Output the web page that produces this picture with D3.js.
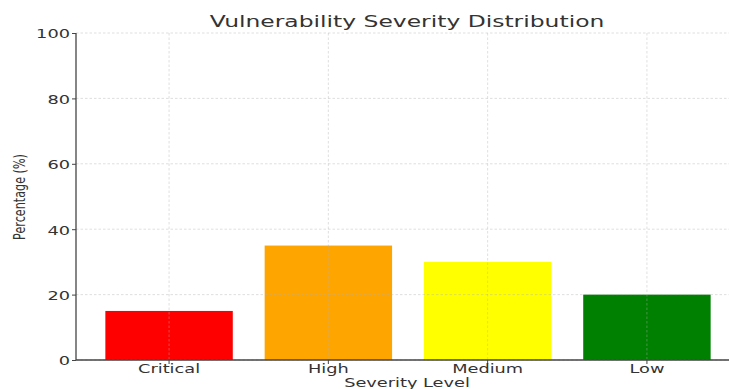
<!DOCTYPE html>
<html>
<head>
<meta charset="utf-8">
<script src="https://cdn.jsdelivr.net/npm/d3@7"></script>
<style>
  body { margin: 0; background: #ffffff; }
  svg { display: block; }
  text { font-family: "DejaVu Sans", sans-serif; fill: #333333; }
</style>
</head>
<body>
<svg id="chart" width="729" height="389"></svg>
<script>
// Severity levels and their share of all findings (%)
const categories = ["Critical", "High", "Medium", "Low"];
const percentages = [15, 35, 30, 20];
const barColors = ["#ff0000", "#ffa500", "#ffff00", "#008000"];
const yTicks = [0, 20, 40, 60, 80, 100];

const titleText = "Vulnerability Severity Distribution";
const xLabelText = "Severity Level";
const yLabelText = "Percentage (%)";

// Layout
const W = 729, H = 389;
const plotTop = 33, plotBottom = 360;
const axisX = 76;          // left spine
const plotRight = W;       // grid runs to the edge
const textStretch = 1.42;  // wide glyph rendering

const svg = d3.select("#chart");

// Bars follow a matplotlib-like layout: width 0.8 of each slot, 0.6 slot margin
const x = d3.scaleBand()
  .domain(categories)
  .range([73.5, 742.5])
  .paddingInner(0.2)
  .paddingOuter(0.2);

const y = d3.scaleLinear()
  .domain([0, 100])
  .range([plotBottom, plotTop]);

const center = c => x(c) + x.bandwidth() / 2;

// Bars
svg.append("g")
  .selectAll("rect")
  .data(categories)
  .join("rect")
  .attr("x", c => x(c))
  .attr("y", (c, i) => y(percentages[i]))
  .attr("width", x.bandwidth())
  .attr("height", (c, i) => y(0) - y(percentages[i]))
  .attr("fill", (c, i) => barColors[i]);

// Grid (dashed, translucent, drawn over the bars)
const grid = svg.append("g")
  .attr("stroke", "#b0b0b0")
  .attr("stroke-opacity", 0.45)
  .attr("stroke-width", 0.9)
  .attr("stroke-dasharray", "2.5,2");

grid.selectAll("line.h")
  .data(yTicks)
  .join("line")
  .attr("class", "h")
  .attr("x1", axisX).attr("x2", plotRight)
  .attr("y1", d => y(d)).attr("y2", d => y(d));

grid.selectAll("line.v")
  .data(categories)
  .join("line")
  .attr("class", "v")
  .attr("x1", c => center(c)).attr("x2", c => center(c))
  .attr("y1", plotTop).attr("y2", plotBottom);

// Y axis
const yAxis = svg.append("g")
  .attr("transform", `translate(${axisX},0)`)
  .call(d3.axisLeft(y).tickValues(yTicks).tickSizeOuter(0).tickSize(4));
yAxis.select(".domain").attr("stroke", "#444").attr("stroke-width", 1.3)
  .attr("d", `M0,${plotBottom}V${plotTop}`);
yAxis.selectAll(".tick line").attr("stroke", "#444").attr("stroke-width", 1);
yAxis.selectAll(".tick text")
  .attr("x", null).attr("dy", null)
  .attr("text-anchor", "end")
  .attr("dominant-baseline", "central")
  .attr("font-size", 12.5)
  .attr("fill", "#333")
  .attr("transform", `translate(-6,0.8) scale(${textStretch},1)`);

// X axis
const xAxis = svg.append("g")
  .attr("transform", `translate(0,${plotBottom})`)
  .call(d3.axisBottom(x).tickSizeOuter(0).tickSize(4));
xAxis.select(".domain").attr("stroke", "#444").attr("stroke-width", 1.3)
  .attr("d", `M${axisX},0H${W}`);
xAxis.selectAll(".tick line").attr("stroke", "#444").attr("stroke-width", 1);
xAxis.selectAll(".tick text")
  .attr("y", null).attr("dy", null)
  .attr("font-size", 12.5)
  .attr("fill", "#333")
  .attr("transform", `translate(0,13) scale(${textStretch},1)`);

// Title
svg.append("text")
  .attr("transform", `translate(407,27) scale(${textStretch},1)`)
  .attr("text-anchor", "middle")
  .attr("font-size", 16.5)
  .text(titleText);

// Axis labels
svg.append("text")
  .attr("transform", `translate(407,387) scale(${textStretch},1)`)
  .attr("text-anchor", "middle")
  .attr("font-size", 12.5)
  .text(xLabelText);

svg.append("text")
  .attr("transform", `translate(25,197) scale(${textStretch},1) rotate(-90)`)
  .attr("text-anchor", "middle")
  .attr("font-size", 11.2)
  .text(yLabelText);
</script>
</body>
</html>
